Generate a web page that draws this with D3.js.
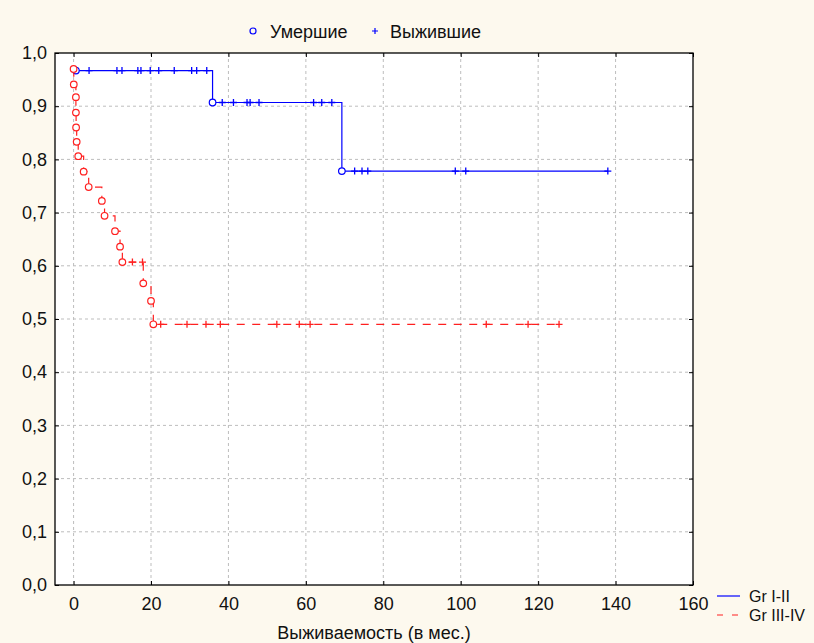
<!DOCTYPE html>
<html>
<head>
<meta charset="utf-8">
<script src="https://cdn.jsdelivr.net/npm/d3@7"></script>
<style>
  body { margin: 0; background: #fdf9ee; }
  svg { display: block; font-family: "Liberation Sans", Arial, sans-serif; }
</style>
</head>
<body>
<div id="chart"></div>
<script>
// Gr I-II
var blueTime  = [0.6, 4.0, 11.2, 12.5, 16.6, 17.4, 19.8, 22.0, 26.0, 30.5, 31.8, 34.4, 35.9, 38.4, 41.3, 44.8, 45.6, 47.9, 62.0, 64.1, 66.7, 69.3, 72.6, 74.5, 76.0, 98.6, 101.3, 138.0];
var blueEvent = [1,   0,   0,    0,    0,    0,    0,    0,    0,    0,    0,    0,    1,    0,    0,    0,    0,    0,    0,    0,    0,    1,    0,    0,    0,    0,    0,     0];
var blueSurv  = [0.967, 0.967, 0.967, 0.967, 0.967, 0.967, 0.967, 0.967, 0.967, 0.967, 0.967, 0.967, 0.907, 0.907, 0.907, 0.907, 0.907, 0.907, 0.907, 0.907, 0.907, 0.778, 0.778, 0.778, 0.778, 0.778, 0.778, 0.778];

// Gr III-IV
var redTime  = [0, 0.05, 0.6, 0.6, 0.65, 0.8, 1.2, 2.6, 3.9, 7.3, 8.0, 10.7, 12.0, 12.6, 15.2, 17.8, 18.0, 20.0, 20.6, 22.5, 29.3, 34.2, 37.9, 52.5, 58.3, 61.1, 106.6, 117.4, 125.4];
var redEvent = [1, 1,    1,   1,   1,    1,   1,   1,   1,   1,   1,   1,    1,    1,    0,    0,    1,    1,    1,    0,    0,    0,    0,    0,    0,    0,    0,     0,     0];
var redSurv  = [0.970, 0.941, 0.917, 0.888, 0.860, 0.833, 0.806, 0.777, 0.748, 0.722, 0.694, 0.665, 0.636, 0.607, 0.607, 0.607, 0.567, 0.534, 0.490, 0.490, 0.490, 0.490, 0.490, 0.490, 0.490, 0.490, 0.490, 0.490, 0.490];

var xTicks = [0, 20, 40, 60, 80, 100, 120, 140, 160];
var yTicks = [0, 0.1, 0.2, 0.3, 0.4, 0.5, 0.6, 0.7, 0.8, 0.9, 1.0];
var legendTop = ["Умершие", "Выжившие"];
var groups = ["Gr I-II", "Gr III-IV"];
var xTitle = "Выживаемость (в мес.)";

var W = 814, H = 643;
var margin = {top: 53, right: 121, bottom: 58, left: 55};
var width = W - margin.left - margin.right,
    height = H - margin.top - margin.bottom;

var svg = d3.select("#chart").append("svg")
  .attr("width", W).attr("height", H);

var x = d3.scaleLinear().domain([-4.8, 160]).range([0, width]);
var y = d3.scaleLinear().domain([0, 1]).range([height, 0]);

var g = svg.append("g")
  .attr("transform", "translate(" + margin.left + "," + margin.top + ")");

g.append("rect").attr("width", width).attr("height", height).attr("fill", "#fff");

// grid
g.selectAll("line.gx").data(xTicks.filter(function(d){ return d < 160; }))
  .enter().append("line").attr("class", "gx")
  .attr("x1", function(d){ return x(d); }).attr("x2", function(d){ return x(d); })
  .attr("y1", 0).attr("y2", height)
  .attr("stroke", "#bdbdbd").attr("stroke-dasharray", "3,3");
g.selectAll("line.gy").data(yTicks.filter(function(d){ return d > 0 && d < 1; }))
  .enter().append("line").attr("class", "gy")
  .attr("y1", function(d){ return y(d); }).attr("y2", function(d){ return y(d); })
  .attr("x1", 0).attr("x2", width)
  .attr("stroke", "#bdbdbd").attr("stroke-dasharray", "3,3");

// axes (ticks pointing inward, mirrored)
var fmt = function(d){ return d3.format(".1f")(d).replace(".", ","); };
var ax = function(sel){ sel.select(".domain").remove(); sel.selectAll("line").attr("stroke", "#000"); };
g.append("g").attr("transform", "translate(0," + height + ")")
  .call(d3.axisBottom(x).tickValues(xTicks).tickSizeInner(-4).tickSizeOuter(0).tickPadding(12))
  .call(ax).selectAll("text").attr("font-size", 18).attr("fill", "#111").attr("font-family", null);
g.append("g")
  .call(d3.axisTop(x).tickValues(xTicks).tickSizeInner(-4).tickSizeOuter(0).tickFormat(""))
  .call(ax);
g.append("g")
  .call(d3.axisLeft(y).tickValues(yTicks).tickSizeInner(-4).tickSizeOuter(0).tickPadding(8).tickFormat(fmt))
  .call(ax).selectAll("text").attr("font-size", 18).attr("fill", "#111").attr("font-family", null);
g.append("g").attr("transform", "translate(" + width + ",0)")
  .call(d3.axisRight(y).tickValues(yTicks).tickSizeInner(-4).tickSizeOuter(0).tickFormat(""))
  .call(ax);

// curves
var line = d3.line().curve(d3.curveStepAfter)
  .x(function(d){ return x(d[0]); }).y(function(d){ return y(d[1]); });

function drawCurve(times, events, surv, color, dash) {
  var pts = times.map(function(t, i){ return [t, surv[i]]; });
  g.append("path").attr("d", line(pts)).attr("fill", "none")
    .attr("stroke", color).attr("stroke-width", 1.2)
    .attr("stroke-dasharray", dash);
  var data = times.map(function(t, i){ return {t: t, s: surv[i], e: events[i]}; });
  g.selectAll(null).data(data.filter(function(d){ return d.e === 0; }))
    .enter().append("path")
    .attr("d", function(d){
      var cx = x(d.t), cy = y(d.s);
      return "M" + (cx - 3.5) + "," + cy + "H" + (cx + 3.5) + "M" + cx + "," + (cy - 3.5) + "V" + (cy + 3.5);
    })
    .attr("stroke", color).attr("stroke-width", 1.3);
  g.selectAll(null).data(data.filter(function(d){ return d.e === 1; }))
    .enter().append("circle")
    .attr("cx", function(d){ return x(d.t); }).attr("cy", function(d){ return y(d.s); })
    .attr("r", 3.3).attr("fill", "#fff").attr("stroke", color).attr("stroke-width", 1.2);
}
drawCurve(blueTime, blueEvent, blueSurv, "#0000ff", null);
drawCurve(redTime, redEvent, redSurv, "#ff2020", "8,7.5");

// frame
g.append("rect").attr("width", width).attr("height", height)
  .attr("fill", "none").attr("stroke", "#000").attr("stroke-width", 1.3);

// top legend
svg.append("circle").attr("cx", 253).attr("cy", 31).attr("r", 3)
  .attr("fill", "none").attr("stroke", "#0000ff").attr("stroke-width", 1.2);
svg.append("text").attr("x", 270).attr("y", 38).attr("font-size", 18).attr("fill", "#111").text(legendTop[0]);
svg.append("path").attr("d", "M372,31H378M375,28V34").attr("stroke", "#0000ff").attr("stroke-width", 1.2);
svg.append("text").attr("x", 390).attr("y", 38).attr("font-size", 18).attr("fill", "#111").text(legendTop[1]);

// bottom-right legend
svg.append("line").attr("x1", 717).attr("x2", 740).attr("y1", 596).attr("y2", 596)
  .attr("stroke", "#0000ff").attr("stroke-width", 1.2);
svg.append("line").attr("x1", 717).attr("x2", 740).attr("y1", 615).attr("y2", 615)
  .attr("stroke", "#ff2020").attr("stroke-width", 1.2).attr("stroke-dasharray", "6,9");
svg.append("text").attr("x", 749).attr("y", 602).attr("font-size", 16).attr("fill", "#111").text(groups[0]);
svg.append("text").attr("x", 749).attr("y", 621).attr("font-size", 16).attr("fill", "#111").text(groups[1]);

// x title
svg.append("text").attr("x", 374).attr("y", 639)
  .attr("text-anchor", "middle").attr("font-size", 18).attr("fill", "#111").text(xTitle);
</script>
</body>
</html>
